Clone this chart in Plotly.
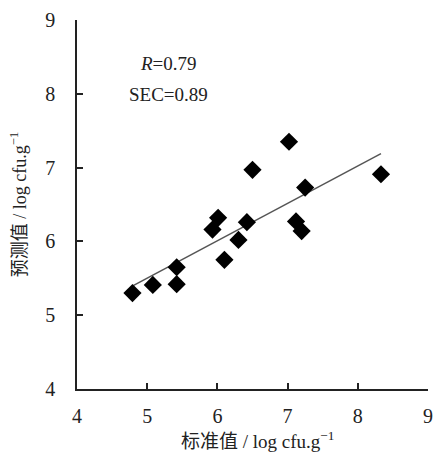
import plotly.graph_objects as go

std_vals = [4.79, 5.08, 5.42, 5.42, 5.93, 6.01, 6.10, 6.30, 6.42, 6.50, 7.02, 7.25, 7.12, 7.20, 8.33]
pred_vals = [5.30, 5.41, 5.42, 5.65, 6.16, 6.32, 5.75, 6.02, 6.26, 6.97, 7.35, 6.73, 6.27, 6.14, 6.91]
fit_x = [4.80, 8.33]
fit_y = [5.40, 7.19]
x_ticks = [4, 5, 6, 7, 8, 9]
y_ticks = [4, 5, 6, 7, 8, 9]

serif = "Liberation Serif, Times New Roman, Noto Sans CJK SC, serif"

fig = go.Figure()
fig.add_trace(go.Scatter(x=fit_x, y=fit_y, mode="lines",
                         line=dict(color="#555555", width=1.5), showlegend=False))
fig.add_trace(go.Scatter(x=std_vals, y=pred_vals, mode="markers",
                         marker=dict(symbol="diamond", size=14, color="#000000"),
                         showlegend=False))

fig.add_annotation(x=5.3, y=8.41, xref="x", yref="y", text="<i>R</i>=0.79",
                   showarrow=False, font=dict(family=serif, size=19, color="#222"))
fig.add_annotation(x=5.3, y=7.99, xref="x", yref="y", text="SEC=0.89",
                   showarrow=False, font=dict(family=serif, size=19, color="#222"))
fig.add_annotation(x=6.57, y=-0.138, xref="x", yref="paper", yanchor="middle",
                   text="标准值 / log cfu.g<sup>−1</sup>",
                   showarrow=False, font=dict(family=serif, size=19, color="#222"))

fig.update_layout(
    width=433, height=455,
    margin=dict(l=77, r=5, t=20, b=66),
    paper_bgcolor="white", plot_bgcolor="white",
    font=dict(family=serif, size=20, color="#222"),
    xaxis=dict(range=[4, 9], tickvals=x_ticks, showgrid=False, zeroline=False,
               showline=True, linecolor="#222", linewidth=1.5,
               ticks="inside", ticklen=6, tickcolor="#222", tickwidth=1.5,
               ticklabelstandoff=8, automargin=False, ticklabeloverflow="allow"),
    yaxis=dict(range=[4, 9], tickvals=y_ticks, showgrid=False, zeroline=False,
               showline=True, linecolor="#222", linewidth=1.5,
               ticks="inside", ticklen=6, tickcolor="#222", tickwidth=1.5,
               ticklabelstandoff=16, automargin=False,
               title=dict(text="预测值 / log cfu.g<sup>−1</sup>", font=dict(size=18), standoff=14)),
)

fig.write_html("out.html", config={"displayModeBar": False},
               post_script="document.body.style.margin='0';document.body.style.overflow='hidden';")
